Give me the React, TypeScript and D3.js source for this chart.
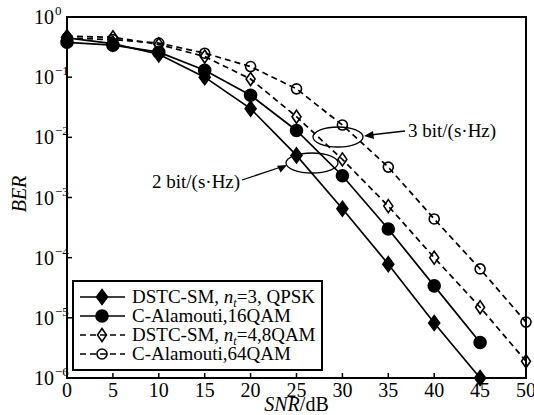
import React from 'react';
import { scaleLinear, scaleLog, line } from 'd3';

const snr = [0, 5, 10, 15, 20, 25, 30, 35, 40, 45, 50];
const dstc3qpsk = [0.45, 0.36, 0.24, 0.1, 0.03, 0.005, 6.5e-4, 7.8e-5, 8.2e-6, 1e-6];
const alam16 = [0.38, 0.34, 0.26, 0.13, 0.05, 0.013, 2.3e-3, 3e-4, 3.4e-5, 3.9e-6];
const dstc4qam8 = [0.48, 0.46, 0.35, 0.22, 0.093, 0.022, 4.3e-3, 7.2e-4, 1e-4, 1.5e-5, 1.9e-6];
const alam64 = [0.45, 0.42, 0.37, 0.25, 0.15, 0.064, 0.016, 3.2e-3, 4.4e-4, 6.5e-5, 8.5e-6];
const xTicks = [0, 5, 10, 15, 20, 25, 30, 35, 40, 45, 50];
const yExps = [0, -1, -2, -3, -4, -5, -6];

const W = 534, H = 415;
const L = 67, R = 526, T = 17, B = 378;
const FONT = '"Liberation Serif", "Times New Roman", serif';

const series = [
  { name: 'DSTC-SM, ', nt: '3', rest: ', QPSK', values: dstc3qpsk, marker: 'diamond', filled: true, dashed: false },
  { name: 'C-Alamouti,16QAM', values: alam16, marker: 'circle', filled: true, dashed: false },
  { name: 'DSTC-SM, ', nt: '4', rest: ',8QAM', values: dstc4qam8, marker: 'diamond', filled: false, dashed: true },
  { name: 'C-Alamouti,64QAM', values: alam64, marker: 'circle', filled: false, dashed: true },
];

const Marker = ({ x, y, kind, filled }: { x: number; y: number; kind: string; filled: boolean }) => {
  if (kind === 'diamond') {
    const w = filled ? 5.5 : 4.5, h = filled ? 7.5 : 6.5;
    return (
      <path
        d={`M${x},${y - h}L${x + w},${y}L${x},${y + h}L${x - w},${y}Z`}
        fill={filled ? '#000' : 'none'}
        stroke="#000"
        strokeWidth={1.6}
      />
    );
  }
  return <circle cx={x} cy={y} r={filled ? 6 : 5} fill={filled ? '#000' : 'none'} stroke="#000" strokeWidth={1.6} />;
};

export default function App() {
  const x = scaleLinear().domain([0, 50]).range([L, R]);
  const y = scaleLog().domain([1e-6, 1]).range([B, T]);
  const path = line<number>()
    .x((_, i) => x(snr[i]))
    .y((d) => y(d));

  const legX = 73, legY = 281, legW = 249, legH = 89;
  const rowY = [297, 316, 335, 354];

  return (
    <svg width={W} height={H} style={{ display: 'block', position: 'absolute', left: 0, top: 0, fontFamily: FONT }}>
      <rect width={W} height={H} fill="#fff" />
      {series.map((s, i) => (
        <g key={i}>
          <path
            d={path(s.values) || ''}
            fill="none"
            stroke="#000"
            strokeWidth={1.7}
            strokeDasharray={s.dashed ? '6,4' : undefined}
          />
          {s.values.map((v, j) => (
            <Marker key={j} x={x(snr[j])} y={y(v)} kind={s.marker} filled={s.filled} />
          ))}
        </g>
      ))}

      {/* annotations */}
      <ellipse cx={312} cy={163} rx={26} ry={10} fill="none" stroke="#000" strokeWidth={1.3} />
      <ellipse cx={338} cy={137} rx={25} ry={10} fill="none" stroke="#000" strokeWidth={1.3} />
      <line x1={242} y1={180} x2={281} y2={167} stroke="#000" strokeWidth={1.3} />
      <path d="M287,165 L277,165 L280,172 Z" fill="#000" transform="rotate(-5 287 165)" />
      <line x1={405} y1={131} x2={370} y2={135} stroke="#000" strokeWidth={1.3} />
      <path d="M364,136 L373,131 L374,139 Z" fill="#000" />
      <text x={152} y={188} fontSize={19}>2 bit/(s·Hz)</text>
      <text x={408} y={137} fontSize={19}>3 bit/(s·Hz)</text>

      {/* frame */}
      <rect x={L} y={T} width={R - L} height={B - T} fill="none" stroke="#000" strokeWidth={2} />

      {xTicks.map((t) => (
        <g key={t}>
          <line x1={x(t)} x2={x(t)} y1={B} y2={B - 5} stroke="#000" strokeWidth={1.5} />
          <text x={x(t)} y={397} fontSize={20} textAnchor="middle">{t}</text>
        </g>
      ))}
      {yExps.map((e) => (
        <g key={e}>
          <line x1={L} x2={L + 5} y1={y(Math.pow(10, e))} y2={y(Math.pow(10, e))} stroke="#000" strokeWidth={1.5} />
          <text x={54} y={y(Math.pow(10, e)) + 7} fontSize={20} textAnchor="end">
            10
          </text>
          <text x={55} y={y(Math.pow(10, e)) - 2} fontSize={13} textAnchor="start">
            {e === 0 ? '0' : '\u2212' + String(-e)}
          </text>
        </g>
      ))}

      <text transform={`translate(26,194) rotate(-90)`} fontSize={20} fontStyle="italic" textAnchor="middle">BER</text>
      <text x={(L + R) / 2} y={411} fontSize={20} textAnchor="middle">
        <tspan fontStyle="italic">SNR</tspan>/dB
      </text>

      {/* legend */}
      <rect x={legX} y={legY} width={legW} height={legH} fill="#fff" stroke="#000" strokeWidth={2} />
      {series.map((s, i) => (
        <g key={i}>
          <line x1={80} x2={125} y1={rowY[i]} y2={rowY[i]} stroke="#000" strokeWidth={1.7} strokeDasharray={s.dashed ? '6,4' : undefined} />
          <Marker x={102} y={rowY[i]} kind={s.marker} filled={s.filled} />
          <text x={132} y={rowY[i] + 6} fontSize={19}>
            {s.nt ? (
              <>
                {s.name}
                <tspan fontStyle="italic">n</tspan>
                <tspan fontStyle="italic" fontSize={12} dy={4}>t</tspan>
                <tspan dy={-4}>={s.nt}{s.rest}</tspan>
              </>
            ) : (
              s.name
            )}
          </text>
        </g>
      ))}
    </svg>
  );
}
